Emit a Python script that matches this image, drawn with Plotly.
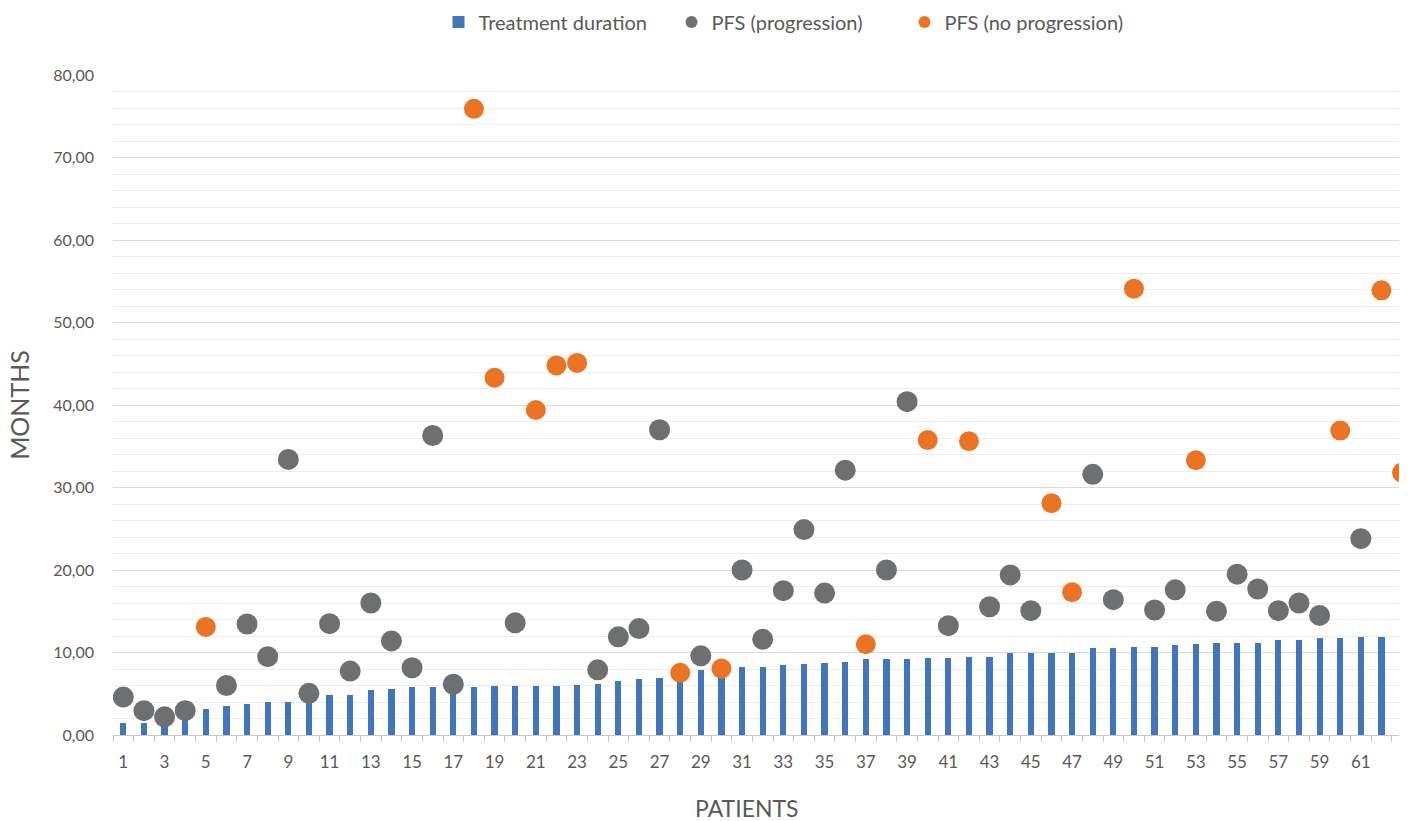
import plotly.graph_objects as go

patients = list(range(1, 64))

treatment_duration = [
    1.4, 1.5, 2.0, 2.6, 3.1, 3.5, 3.7, 4.0, 4.0, 4.6,
    4.8, 4.9, 5.4, 5.6, 5.8, 5.8, 5.8, 5.85, 5.95, 5.95,
    5.95, 6.0, 6.1, 6.15, 6.5, 6.8, 6.95, 7.3, 7.9, 8.0,
    8.3, 8.3, 8.45, 8.55, 8.75, 8.85, 9.2, 9.2, 9.2, 9.35,
    9.35, 9.4, 9.5, 9.9, 9.9, 9.9, 9.9, 10.6, 10.6, 10.65,
    10.7, 10.9, 11.05, 11.15, 11.1, 11.2, 11.5, 11.55, 11.7, 11.8,
    11.9, 11.9, 12.0,
]

pfs_progression = [
    4.6, 2.95, 2.2, 2.95, None, 6.0, 13.45, 9.5, 33.4, 5.05,
    13.5, 7.75, 16.0, 11.4, 8.15, 36.3, 6.15, None, None, 13.6,
    None, None, None, 7.9, 11.9, 12.9, 37.0, None, 9.6, None,
    20.0, 11.6, 17.5, 24.9, 17.2, 32.1, None, 20.0, 40.4, None,
    13.25, None, 15.55, 19.4, 15.07, None, None, 31.6, 16.4, None,
    15.15, 17.6, None, 15.0, 19.5, 17.7, 15.07, 16.0, 14.5, None,
    23.8, None, None,
]

pfs_no_progression = [
    None, None, None, None, 13.1, None, None, None, None, None,
    None, None, None, None, None, None, None, 75.9, 43.3, None,
    39.4, 44.8, 45.1, None, None, None, None, 7.55, None, 8.05,
    None, None, None, None, None, None, 11.0, None, None, 35.75,
    None, 35.6, None, None, None, 28.1, 17.3, None, None, 54.1,
    None, None, 33.3, None, None, None, None, None, None, 36.9,
    None, 53.9, 31.8,
]

x_tickvals = list(range(1, 63, 2))
y_tickvals = list(range(0, 81, 10))

FONT = "Lato, 'Open Sans', sans-serif"
TXT = "#595959"

fig = go.Figure()
fig.add_trace(go.Bar(
    x=patients, y=treatment_duration, name="Treatment duration",
    width=0.3, marker=dict(color="#4276BC", line=dict(width=0)),
))
fig.add_trace(go.Scatter(
    x=patients, y=pfs_progression, name="PFS (progression)", mode="markers",
    marker=dict(color="#6E6F70", size=21, line=dict(width=0)),
))
fig.add_trace(go.Scatter(
    x=patients, y=pfs_no_progression, name="PFS (no progression)", mode="markers",
    marker=dict(color="#EB7424", size=20, line=dict(width=0)),
))

fig.update_layout(
    width=1413, height=821,
    margin=dict(l=113, r=14, t=75, b=86),
    paper_bgcolor="white", plot_bgcolor="white",
    font=dict(family=FONT, color=TXT, size=16),
    separators=",.",
    showlegend=True,
    legend=dict(
        orientation="h", x=0.5577, xref="container", xanchor="center",
        y=1 - 22 / 821, yref="container", yanchor="middle",
        font=dict(size=20, color=TXT), itemsizing="constant",
        traceorder="normal", itemwidth=30,
        entrywidth=188, entrywidthmode="pixels",
    ),
    bargap=0,
    annotations=[dict(
        text="PATIENTS", xref="paper", yref="paper",
        x=(746 - 113) / 1286, y=(735 - 808) / 660,
        xanchor="center", yanchor="middle", showarrow=False,
        font=dict(size=23, color=TXT, family=FONT),
    )],
)

fig.update_xaxes(
    range=[0.5, 62.85],
    tickmode="array", tickvals=x_tickvals,
    ticks="", ticklabelstandoff=12,
    tickfont=dict(size=17, color=TXT),
    showgrid=False, zeroline=False,
    showline=True, linecolor="#C8C8C8", linewidth=1,
    minor=dict(tickmode="linear", tick0=0.5, dtick=1, ticks="outside",
               ticklen=6, tickcolor="#C8C8C8", showgrid=False),
)
fig.update_yaxes(
    range=[0, 80],
    tickmode="array", tickvals=y_tickvals, tickformat=".2f",
    ticks="", ticklabelstandoff=18,
    tickfont=dict(size=16, color=TXT),
    showgrid=True, gridcolor="#D9D9D9", gridwidth=1,
    zeroline=False, showline=False,
    minor=dict(tickmode="linear", tick0=0, dtick=2, showgrid=True,
               gridcolor="#EDEDED", gridwidth=1),
    title=dict(text="MONTHS", font=dict(size=25, color=TXT), standoff=16),
)

fig.write_html(
    "out.html",
    config={"displayModeBar": False},
    post_script="document.body.style.margin='0';",
)
